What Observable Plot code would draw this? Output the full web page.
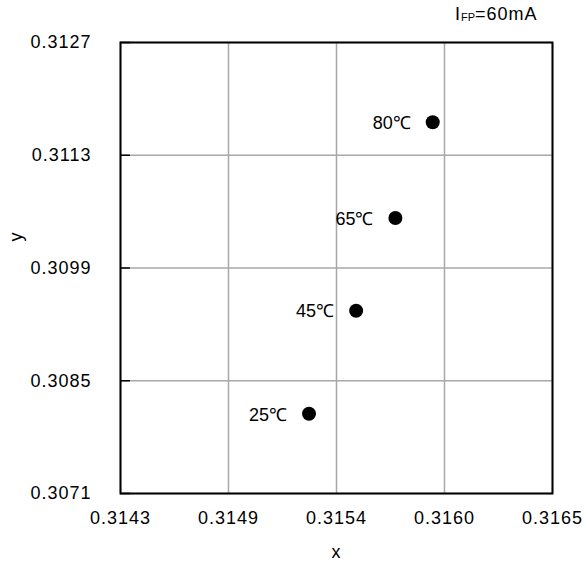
<!DOCTYPE html>
<html>
<head>
<meta charset="utf-8">
<script src="https://cdn.jsdelivr.net/npm/d3@7"></script>
<script src="https://cdn.jsdelivr.net/npm/@observablehq/plot@0.6"></script>
<style>
  html, body { margin: 0; padding: 0; background: #fff; }
  #chart { position: relative; width: 584px; height: 569px; }
  #title { position: absolute; left: 455px; top: 4px; font: 18px "Liberation Sans", Arial, sans-serif; color: #000; letter-spacing: 1px; }
  #title sub { font-size: 11px; vertical-align: -1px; letter-spacing: 0; }
  svg .tl text { letter-spacing: 1px; }
</style>
</head>
<body>
<div id="chart"><div id="title">I<sub>FP</sub>=60mA</div></div>
<script>
const temps = ["25℃", "45℃", "65℃", "80℃"];
const xVals = [0.31526, 0.31550, 0.31570, 0.31589];
const yVals = [0.30809, 0.30937, 0.31052, 0.31171];
const xTicks = [0.3143, 0.31485, 0.3154, 0.31595, 0.3165];
const xTickLabels = ["0.3143", "0.3149", "0.3154", "0.3160", "0.3165"];
const yTicks = [0.3071, 0.3085, 0.3099, 0.3113, 0.3127];
const yTickLabels = ["0.3071", "0.3085", "0.3099", "0.3113", "0.3127"];

const xDomain = [0.3143, 0.3165];
const yDomain = [0.3071, 0.3127];
const data = temps.map((t, i) => ({t, x: xVals[i], y: yVals[i]}));

const plot = Plot.plot({
  width: 584,
  height: 569,
  marginLeft: 120,
  marginRight: 32,
  marginTop: 42,
  marginBottom: 76,
  style: {fontFamily: "'Liberation Sans', Arial, sans-serif", fontSize: "18px", background: "#fff", color: "#000"},
  x: {domain: xDomain},
  y: {domain: yDomain},
  marks: [
    Plot.gridX(xTicks, {stroke: "#a8a8a8", strokeOpacity: 1, strokeWidth: 1.5}),
    Plot.gridY(yTicks, {stroke: "#a8a8a8", strokeOpacity: 1, strokeWidth: 1.5}),
    Plot.axisX({ticks: xTicks, tickSize: 0, tickPadding: 18, tickFormat: (d, i) => xTickLabels[i], label: null, fontSize: 18, className: "tl"}),
    Plot.axisY({ticks: yTicks, tickSize: 0, tickPadding: 29, tickFormat: (d, i) => yTickLabels[i], label: null, fontSize: 18, className: "tl"}),
    Plot.ruleY(yTicks, {y: d => d, x1: xDomain[0], x2: xDomain[0] + (xDomain[1] - xDomain[0]) * 0.023, stroke: "#000", strokeWidth: 1.5}),
    Plot.frame({stroke: "#000", strokeWidth: 2}),
    Plot.dot(data, {x: "x", y: "y", r: 7, fill: "#000", stroke: "none"}),
    Plot.text(data, {x: "x", y: "y", text: "t", textAnchor: "end", dx: -22, dy: 1, fontSize: 18})
  ]
});
document.getElementById("chart").prepend(plot);

// axis titles
const svg = d3.select(plot);
svg.append("text").attr("x", 336).attr("y", 558).attr("text-anchor", "middle")
  .attr("font-size", 18).text("x");
svg.append("text").attr("transform", "translate(22,237) rotate(-90)").attr("text-anchor", "middle")
  .attr("font-size", 18).text("y");
</script>
</body>
</html>
